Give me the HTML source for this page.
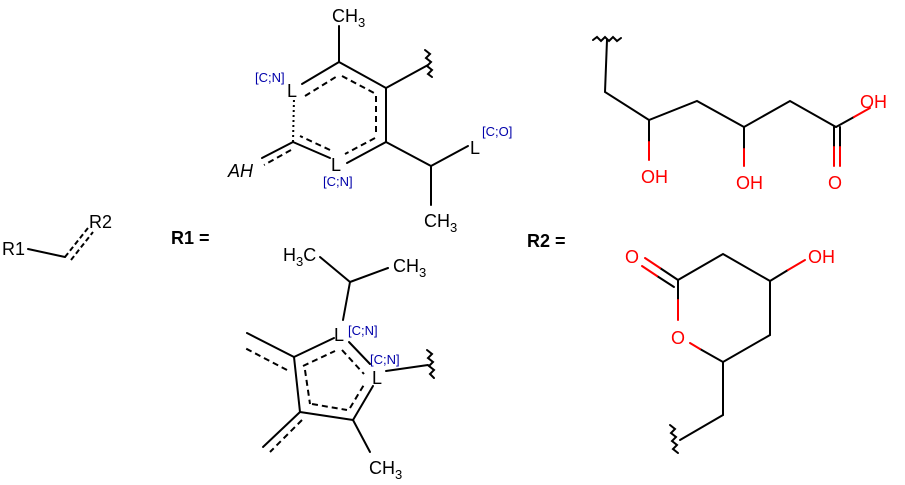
<!DOCTYPE html>
<html><head><meta charset="utf-8"><style>
html,body{margin:0;padding:0;background:#fff;}
svg{display:block;}
text{font-family:"Liberation Sans",sans-serif;}
</style></head><body>
<svg width="905" height="485" viewBox="0 0 905 485" xmlns="http://www.w3.org/2000/svg">
<g stroke="#000" stroke-width="2" fill="none" stroke-linecap="round">
<line x1="28" y1="249" x2="65" y2="257"/>
<line x1="65" y1="257" x2="88" y2="228" stroke-dasharray="5,3" stroke-linecap="butt"/>
<line x1="71" y1="260" x2="93" y2="232" stroke-dasharray="5,3" stroke-linecap="butt"/>

<line x1="339" y1="62" x2="339" y2="26"/>
<line x1="302" y1="84" x2="339" y2="62"/>
<line x1="339" y1="62" x2="386" y2="88"/>
<line x1="386" y1="88" x2="386" y2="142"/>
<line x1="386" y1="142" x2="347" y2="163"/>
<line x1="330" y1="158" x2="293" y2="142"/>
<line x1="293" y1="142" x2="294" y2="98" stroke-dasharray="2,3" stroke-linecap="butt"/>
<g stroke-dasharray="6,4" stroke-linecap="butt">
<line x1="305" y1="96" x2="339" y2="75"/>
<line x1="342" y1="76" x2="376" y2="94"/>
<line x1="376" y1="96" x2="376" y2="136"/>
<line x1="375" y1="138" x2="345" y2="154"/>
<line x1="330" y1="150" x2="300" y2="136"/>
<line x1="291" y1="150" x2="264" y2="165"/>
</g>
<line x1="293" y1="142" x2="262" y2="158"/>
<line x1="386" y1="88" x2="428" y2="65"/>
<path d="M425,50 l5,4 l-4,4 l5,4 l-4,4 l5,4 l-4,4 l4,3"/>
<line x1="386" y1="142" x2="431" y2="166"/>
<line x1="431" y1="166" x2="468" y2="146"/>
<line x1="431" y1="166" x2="431" y2="205"/>

<line x1="320" y1="257" x2="350" y2="282"/>
<line x1="350" y1="282" x2="388" y2="268"/>
<line x1="350" y1="282" x2="343" y2="320"/>
<line x1="334" y1="338" x2="294" y2="357"/>
<line x1="294" y1="357" x2="300" y2="412"/>
<line x1="300" y1="412" x2="353" y2="420"/>
<line x1="353" y1="420" x2="373" y2="386"/>
<line x1="349" y1="342" x2="370" y2="364"/>
<line x1="386" y1="371" x2="428" y2="365"/>
<path d="M427,350 l5,4 l-4,4 l5,4 l-4,4 l5,4 l-4,4 l4,4"/>
<line x1="294" y1="357" x2="247" y2="333"/>
<line x1="300" y1="412" x2="263" y2="447"/>
<line x1="353" y1="420" x2="370" y2="452"/>
<g stroke-dasharray="6,4" stroke-linecap="butt">
<line x1="287" y1="370" x2="243" y2="347"/>
<line x1="302" y1="420" x2="270" y2="452"/>
<line x1="303" y1="366" x2="335" y2="351"/>
<line x1="342" y1="350" x2="364" y2="374"/>
<line x1="305" y1="370" x2="310" y2="404"/>
<line x1="312" y1="404" x2="347" y2="410"/>
<line x1="350" y1="408" x2="365" y2="383"/>
</g>

<path d="M593,40 l4,-3 l4,4 l4,-4 l4,4 l4,-4 l4,4 l4,-3"/>
<polyline points="607,40 605,92 649,120 697,101 744,127 790,101 836,127"/>
<line x1="836" y1="127" x2="854" y2="117"/>
<line x1="649" y1="120" x2="649" y2="142"/>
<line x1="744" y1="127" x2="744" y2="149"/>
<line x1="834" y1="127" x2="834" y2="147"/>
<line x1="840" y1="127" x2="840" y2="147"/>
<g stroke="#f00">
<line x1="854" y1="117" x2="870" y2="108"/>
<line x1="649" y1="142" x2="649" y2="160"/>
<line x1="744" y1="149" x2="744" y2="166"/>
<line x1="834" y1="147" x2="834" y2="166"/>
<line x1="840" y1="147" x2="840" y2="166"/>
</g>

<polyline points="678,300 678,280 723,254 770,281 770,335 723,362 700,349"/>
<line x1="770" y1="281" x2="788" y2="270"/>
<line x1="678" y1="280" x2="660" y2="268"/>
<line x1="674" y1="287" x2="657" y2="276"/>
<line x1="723" y1="362" x2="723" y2="415"/>
<line x1="723" y1="415" x2="680" y2="440"/>
<path d="M670,425 l5,4 l-4,4 l5,4 l-4,4 l5,4 l-4,4 l5,4"/>
<g stroke="#f00">
<line x1="678" y1="300" x2="678" y2="320"/>
<line x1="700" y1="349" x2="690" y2="343"/>
<line x1="788" y1="270" x2="805" y2="260"/>
<line x1="660" y1="268" x2="645" y2="258"/>
<line x1="657" y1="276" x2="642" y2="266"/>
</g>
</g>

<g font-size="18" fill="#000">
<text x="2" y="255">R1</text>
<text x="89" y="228">R2</text>
<text x="171" y="244" font-weight="bold">R1 =</text>
<text x="527" y="247" font-weight="bold">R2 =</text>
<text x="332" y="22">CH<tspan font-size="13" dy="5">3</tspan></text>
<text x="228" y="177" font-style="italic">AH</text>
<text x="287" y="97">L</text>
<text x="331" y="171">L</text>
<text x="470" y="154">L</text>
<text x="424" y="227">CH<tspan font-size="13" dy="5">3</tspan></text>
<text x="283" y="261">H<tspan font-size="13" dy="5">3</tspan><tspan dy="-5">C</tspan></text>
<text x="393" y="272">CH<tspan font-size="13" dy="5">3</tspan></text>
<text x="334" y="341">L</text>
<text x="372" y="384">L</text>
<text x="369" y="474">CH<tspan font-size="13" dy="5">3</tspan></text>
</g>
<g font-size="13" fill="#00a">
<text x="255" y="82">[C;N]</text>
<text x="323" y="186">[C;N]</text>
<text x="482" y="136">[C;O]</text>
<text x="348" y="335">[C;N]</text>
<text x="370" y="364">[C;N]</text>
</g>
<g font-size="18" fill="#f00">
<text x="860" y="108">OH</text>
<text x="641" y="183">OH</text>
<text x="736" y="189">OH</text>
<text x="828" y="189">O</text>
<text x="625" y="263">O</text>
<text x="808" y="263">OH</text>
<text x="671" y="344">O</text>
</g>
</svg>
</body></html>
